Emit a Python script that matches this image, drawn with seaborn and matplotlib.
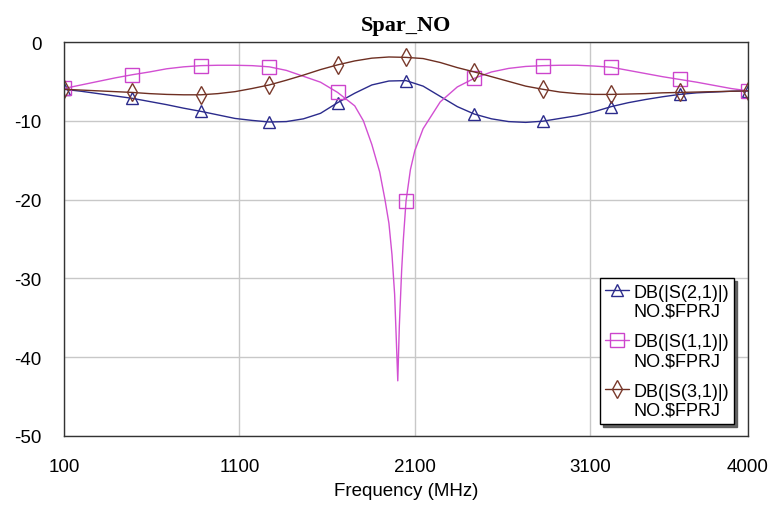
import numpy as np
import pandas as pd
import matplotlib
matplotlib.use("Agg")
import matplotlib.pyplot as plt
from matplotlib.legend_handler import HandlerLine2D
import seaborn as sns

# Frequency grid (MHz) shared by S21 and S31, 97.5 MHz step from 100 to 4000
freq_mhz = [100 + 97.5 * i for i in range(41)]

# DB(|S(2,1)|)
s21_db = [-6.0, -6.25, -6.55, -6.85, -7.15, -7.55, -7.95, -8.4, -8.8, -9.25,
          -9.7, -9.95, -10.15, -10.1, -9.75, -9.05, -7.7, -6.5, -5.45, -4.95,
          -4.9, -5.6, -6.9, -8.2, -9.15, -9.75, -10.1, -10.2, -10.05, -9.7,
          -9.35, -8.85, -8.2, -7.7, -7.3, -6.95, -6.65, -6.45, -6.35, -6.25,
          -6.2]

# DB(|S(3,1)|)
s31_db = [-6.0, -6.1, -6.2, -6.3, -6.4, -6.55, -6.65, -6.7, -6.7, -6.55,
          -6.3, -5.9, -5.45, -4.85, -4.2, -3.5, -2.9, -2.4, -2.05, -1.9,
          -1.95, -2.1, -2.6, -3.25, -3.8, -4.4, -5.0, -5.6, -6.0, -6.35,
          -6.55, -6.65, -6.65, -6.6, -6.55, -6.45, -6.4, -6.35, -6.3, -6.25,
          -6.2]

# DB(|S(1,1)|) has a narrow notch near 2 GHz, so it carries extra samples there
s11_freq_mhz = [100, 197.5, 295, 392.5, 490, 587.5, 685, 782.5, 880, 977.5,
                1075, 1172.5, 1270, 1367.5, 1465, 1562.5, 1660, 1757.5, 1807,
                1855, 1900, 1930, 1952.5, 1970, 1985, 1995, 2003, 2012, 2025,
                2035, 2050, 2075, 2100, 2147.5, 2245, 2342.5, 2440, 2537.5,
                2635, 2732.5, 2830, 2927.5, 3025, 3122.5, 3220, 3317.5, 3415,
                3512.5, 3610, 3707.5, 3805, 3902.5, 4000]
s11_db = [-5.9, -5.45, -5.0, -4.55, -4.15, -3.8, -3.4, -3.15, -3.0, -2.95,
          -2.95, -3.0, -3.15, -3.6, -4.35, -5.1, -6.4, -8.1, -10.0,
          -13.0, -16.5, -20.0, -23.0, -27.0, -32.0, -38.0, -43.0, -36.0, -29.0,
          -25.0, -20.2, -16.2, -13.8, -11.0, -7.6, -5.7, -4.6, -3.8,
          -3.35, -3.1, -3.0, -2.95, -2.95, -3.05, -3.2, -3.6, -4.0,
          -4.4, -4.75, -5.1, -5.5, -5.9, -6.2]

# Symbols are placed every 390 MHz
marker_freq_mhz = [100 + 390 * k for k in range(11)]

x_ticks = [100, 1100, 2100, 3100, 4000]
y_ticks = [0, -10, -20, -30, -40, -50]

series_labels = ["DB(|S(2,1)|)\nNO.\\$FPRJ",
                 "DB(|S(1,1)|)\nNO.\\$FPRJ",
                 "DB(|S(3,1)|)\nNO.\\$FPRJ"]

LEGEND_FS = 13


class FirstLineHandler(HandlerLine2D):
    """Legend handle raised to sit beside the first line of a two-line label."""

    def create_artists(self, legend, orig_handle, xdescent, ydescent,
                       width, height, fontsize, trans):
        artists = super().create_artists(legend, orig_handle, xdescent,
                                         ydescent, width, height, fontsize,
                                         trans)
        for art in artists:
            art.set_ydata(np.asarray(art.get_ydata()) + 0.66 * fontsize)
            art.set_markevery([1])
        return artists


sns.set_theme(style="white")
plt.rcParams["font.family"] = ["Liberation Sans", "DejaVu Sans"]

fig = plt.figure(figsize=(7.73, 5.06), dpi=100)
ax = fig.add_axes([0.0828, 0.1364, 0.9677 - 0.0828, 0.915 - 0.1364])

grid_df = pd.DataFrame({"freq": freq_mhz, "s21": s21_db, "s31": s31_db})
s11_df = pd.DataFrame({"freq": s11_freq_mhz, "s11": s11_db})


def marker_index(freqs):
    freqs = np.asarray(freqs, dtype=float)
    return [int(np.argmin(np.abs(freqs - f))) for f in marker_freq_mhz]


common = dict(markerfacecolor="none", markeredgewidth=1.0, linewidth=1.0)

sns.lineplot(data=grid_df, x="freq", y="s21", ax=ax, color="#2b2b8c",
             marker="^", markersize=9, markevery=marker_index(freq_mhz),
             markeredgecolor="#2b2b8c", label=series_labels[0], **common)
sns.lineplot(data=s11_df, x="freq", y="s11", ax=ax, color="#d24fd2",
             marker="s", markersize=10, markevery=marker_index(s11_freq_mhz),
             markeredgecolor="#cc44cc", label=series_labels[1], **common)
sns.lineplot(data=grid_df, x="freq", y="s31", ax=ax, color="#6e2f22",
             marker="d", markersize=9, markevery=marker_index(freq_mhz),
             markeredgecolor="#7a3a2c", label=series_labels[2], **common)

ax.set_xlim(100, 4000)
ax.set_ylim(-50, 0)
ax.set_xticks(x_ticks)
ax.set_yticks(y_ticks)
ax.set_xticklabels([str(t) for t in x_ticks])
ax.set_yticklabels([str(t) for t in y_ticks])
ax.tick_params(axis="both", length=0, labelsize=13.5, pad=16, colors="black")
ax.grid(True, color="#c8c8c8", linewidth=1.0)
ax.set_axisbelow(True)
for sp in ax.spines.values():
    sp.set_color("#333333")
    sp.set_linewidth(1.0)

ax.set_xlabel("Frequency (MHz)", fontsize=13.5, labelpad=5, color="black")
ax.set_ylabel("")
ax.set_title("Spar_NO", fontsize=16, fontweight="bold", color="black",
             family=["Liberation Serif", "DejaVu Serif"], pad=9)

handles, labels = ax.get_legend_handles_labels()
leg = ax.legend(handles, labels, loc="lower right",
                bbox_to_anchor=(0.98, 0.03), borderaxespad=0,
                fontsize=LEGEND_FS, frameon=True, fancybox=False,
                shadow={"color": "#555555", "alpha": 0.9}, numpoints=1,
                handlelength=1.3, handletextpad=0.25, labelspacing=0.75,
                borderpad=0.3,
                handler_map={h: FirstLineHandler() for h in handles})
leg.get_frame().set_edgecolor("black")
leg.get_frame().set_linewidth(1.0)
for txt in leg.get_texts():
    txt.set_color("black")
    txt.set_linespacing(1.15)

fig.savefig("out.png", dpi=100)
